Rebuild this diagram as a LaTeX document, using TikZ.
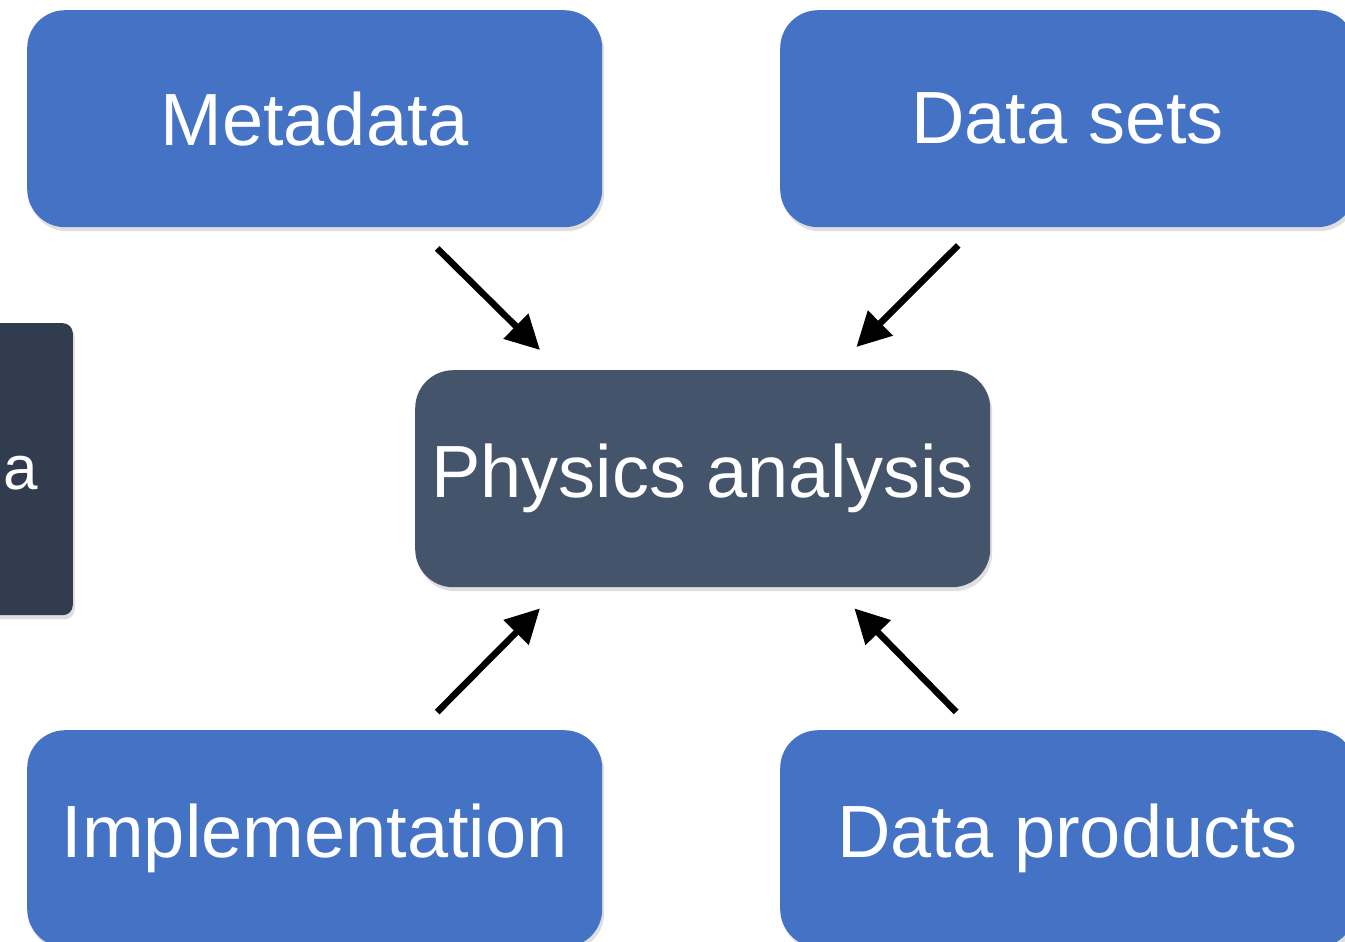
\documentclass[tikz,border=0pt]{standalone}
\usepackage{fontspec}
\setmainfont{Liberation Sans}
\usetikzlibrary{arrows.meta,shadows,calc}
\definecolor{boxblue}{HTML}{4472C4}
\definecolor{physgray}{HTML}{44546A}
\definecolor{leftdark}{HTML}{313D4E}
\begin{document}
\begin{tikzpicture}[x=1pt,y=-1pt,
  shad/.style={drop shadow={opacity=0.25,shadow xshift=2pt,shadow yshift=-4pt}},
  bluebox/.style={shad,fill=boxblue,draw=none,rounded corners=38pt,minimum width=575pt,minimum height=217pt,anchor=north west,text=white,font=\fontsize{74}{80}\selectfont,inner sep=0pt},
  physbox/.style={shad,fill=physgray,draw=none,rounded corners=38pt,minimum width=575pt,minimum height=217pt,anchor=north west,text=white,font=\fontsize{74}{80}\selectfont,inner sep=0pt},
  darkbox/.style={shad,fill=leftdark,draw=none,rounded corners=10pt,minimum width=373pt,minimum height=292pt,anchor=north east,inner sep=0pt},
  arr/.style={line width=6.5pt,-{Triangle[length=34pt,width=34pt]}}]
\useasboundingbox (0,0) rectangle (1345,942);
\clip (0,0) rectangle (1345,942);
\fill[white] (0,0) rectangle (1345,942);
% left partially visible box
\node[darkbox] (left) at (73,323) {};
\node[text=white,font=\fontsize{62}{70}\selectfont,inner sep=0pt] (lefttext) at (21,473) {a};
% boxes
\node[bluebox] (meta) at (27,10) {Metadata};
\node[bluebox] (ds) at (780,10) {Data sets};
\node[physbox] (phys) at (415,370) {Physics analysis};
\node[bluebox] (impl) at (27,730) {Implementation};
\node[bluebox] (dp) at (780,730) {Data products};
% arrow end points
\coordinate (m1) at ($(meta.south)+(122.5,21)$);
\coordinate (m2) at ($(phys.north west)+(125,-20)$);
\coordinate (d1) at ($(ds.south)+(-109.5,18)$);
\coordinate (d2) at ($(phys.north east)+(-134,-23)$);
\coordinate (i1) at ($(impl.north)+(122.5,-18)$);
\coordinate (i2) at ($(phys.south west)+(125,21)$);
\coordinate (p1) at ($(dp.north)+(-111.5,-18)$);
\coordinate (p2) at ($(phys.south east)+(-136,21)$);
\draw[arr] (m1) -- (m2);
\draw[arr] (d1) -- (d2);
\draw[arr] (i1) -- (i2);
\draw[arr] (p1) -- (p2);
\end{tikzpicture}
\end{document}
